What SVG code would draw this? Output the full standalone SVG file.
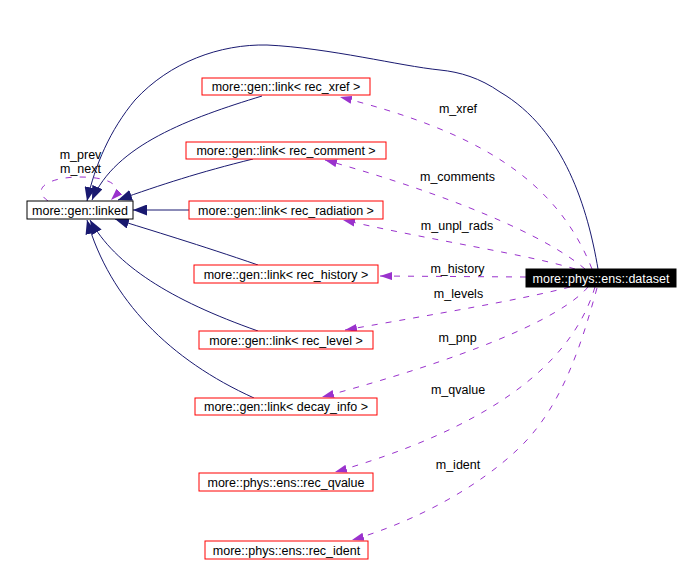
<svg xmlns="http://www.w3.org/2000/svg" width="700" height="577" viewBox="0 0 700 577">
<defs>
<style>
text{font-family:"Liberation Sans",Arial,sans-serif;font-size:12.5px;fill:#000;text-anchor:middle}
.n rect{fill:#fff;stroke:#ff0000;stroke-width:1}
.n.k rect{stroke:#000}
.n.d rect{fill:#000;stroke:#000}
.n.d text{fill:#fff}
.inh{fill:none;stroke:#191970;stroke-width:1;marker-end:url(#ab)}
.use{fill:none;stroke:#9a32cd;stroke-width:1;stroke-dasharray:6,8;marker-end:url(#ap)}
</style>
<marker id="ab" markerUnits="userSpaceOnUse" markerWidth="14" markerHeight="11" refX="14" refY="5.5" orient="auto"><path d="M0,0 L14,5.5 L0,11 z" fill="#191970"/></marker>
<marker id="ap" markerUnits="userSpaceOnUse" markerWidth="12" markerHeight="8" refX="12" refY="4" orient="auto"><path d="M0,0 L12,4 L0,8 z" fill="#9a32cd"/></marker>
</defs>
<rect width="700" height="577" fill="#fff"/>
<g id="edges">
<path class="inh" d="M598,269 C588,210 565,130 500,92 C480,78 460,72 440,70 C400,66 330,48 267,45 C220,44 170,62 135,100 C110,130 95,165 87,201"/>
<path class="inh" d="M262,96 C190,118 115,145 92,200"/>
<path class="inh" d="M253,159 C200,172 160,185 118,200"/>
<path class="inh" d="M189,210 L133,210"/>
<path class="inh" d="M258,265 C200,245 150,230 115,219"/>
<path class="inh" d="M258,331 C170,300 115,265 90,220"/>
<path class="inh" d="M254,398 C170,360 110,300 87,220"/>
<path class="use" d="M48,201 C30,188 50,177 80,177 C110,177 125,186 111,200"/>
<path class="use" d="M592,269 C555,175 470,130 340,97"/>
<path class="use" d="M585,269 C545,235 450,195 325,160"/>
<path class="use" d="M575,269 C530,255 430,240 343,220"/>
<path class="use" d="M526,277 L380,276"/>
<path class="use" d="M570,287 C520,300 430,315 345,330"/>
<path class="use" d="M588,287 C560,320 460,360 322,397"/>
<path class="use" d="M595,287 C570,370 480,430 335,472"/>
<path class="use" d="M597,288 C580,350 560,410 517,450 C480,485 420,520 352,540"/>
<text x="80.5" y="159">m_prev</text>
<text x="80.5" y="173">m_next</text>
<text x="458" y="113">m_xref</text>
<text x="457.5" y="181">m_comments</text>
<text x="457" y="230">m_unpl_rads</text>
<text x="457.5" y="273">m_history</text>
<text x="458.5" y="298">m_levels</text>
<text x="457.5" y="342">m_pnp</text>
<text x="458" y="394">m_qvalue</text>
<text x="458" y="469">m_ident</text>
</g>
<g id="linked" class="n k"><rect x="27" y="201" width="106" height="18"/><text x="80" y="214.5">more::gen::linked</text></g>
<g id="link_xref" class="n"><rect x="202" y="78" width="168" height="17"/><text x="286" y="91">more::gen::link&lt; rec_xref &gt;</text></g>
<g id="link_comment" class="n"><rect x="186" y="142" width="200" height="17"/><text x="286" y="155">more::gen::link&lt; rec_comment &gt;</text></g>
<g id="link_radiation" class="n"><rect x="189" y="201" width="194" height="18"/><text x="286" y="214.5">more::gen::link&lt; rec_radiation &gt;</text></g>
<g id="link_history" class="n"><rect x="194" y="265" width="184" height="18"/><text x="286" y="278.5">more::gen::link&lt; rec_history &gt;</text></g>
<g id="link_level" class="n"><rect x="199" y="331" width="174" height="18"/><text x="286" y="344.5">more::gen::link&lt; rec_level &gt;</text></g>
<g id="link_decay" class="n"><rect x="195" y="398" width="182" height="17"/><text x="286" y="411">more::gen::link&lt; decay_info &gt;</text></g>
<g id="rec_qvalue" class="n"><rect x="199" y="473" width="174" height="18"/><text x="286" y="486.5">more::phys::ens::rec_qvalue</text></g>
<g id="rec_ident" class="n"><rect x="205" y="541" width="163" height="18"/><text x="286.5" y="554.5">more::phys::ens::rec_ident</text></g>
<g id="dataset" class="n d"><rect x="526" y="269" width="150" height="18"/><text x="601" y="282.5">more::phys::ens::dataset</text></g>
</svg>
